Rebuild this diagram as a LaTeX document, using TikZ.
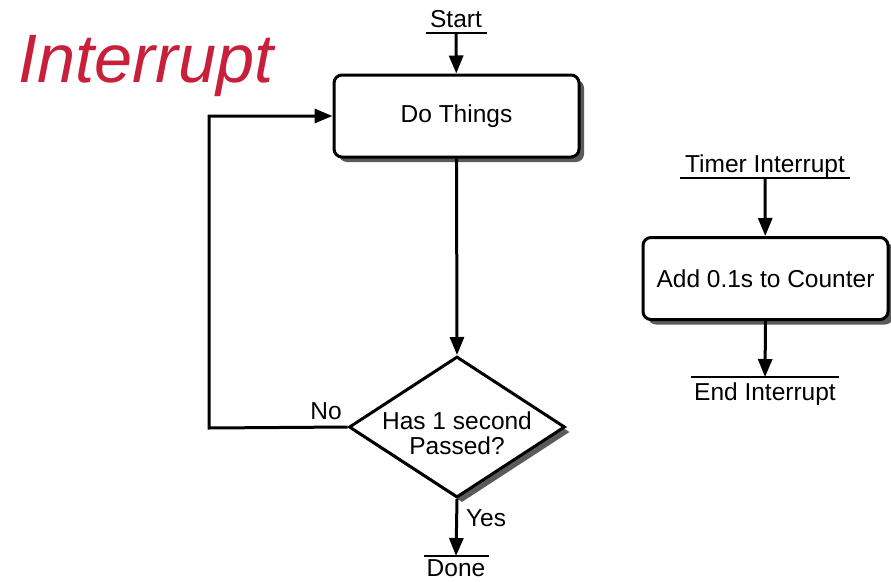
\documentclass[tikz,border=0pt]{standalone}
\usepackage{fontspec}
\setmainfont{Liberation Sans}
\usetikzlibrary{shapes.geometric,shadows,arrows.meta}
\definecolor{titlered}{RGB}{200,32,58}
\definecolor{shade}{RGB}{90,90,90}
\begin{document}
\begin{tikzpicture}[x=1pt,y=-1pt,
  hardshadow/.style={drop shadow={shadow xshift=5pt,shadow yshift=-5pt,fill=shade,opacity=1}},
  box/.style={draw,line width=3pt,rounded corners=8pt,fill=white,
    minimum width=245pt,minimum height=82pt,inner sep=0pt,
    font=\fontsize{24.5}{26}\selectfont,hardshadow},
  decision/.style={diamond,draw,line width=3pt,fill=white,inner sep=0pt,
    minimum width=216pt,minimum height=141pt,hardshadow},
  conn/.style={line width=3pt,-{Triangle[length=18pt,width=14pt]}},
  bar/.style={line width=2.8pt},
  txt/.style={font=\fontsize{24.5}{25}\selectfont,inner sep=0pt},
  lbl/.style={txt,align=center}]
\useasboundingbox (0,0) rectangle (891,581);

% heading
\node[anchor=base west,inner sep=0pt,text=titlered,
  font=\fontsize{68.5}{70}\selectfont\itshape] (title) at (18,82) {Interrupt};

% main loop
\node[txt,anchor=base] (start) at (456,27) {Start};
\coordinate (startbar) at (456,33);
\draw[bar] (426,33) -- (487,33);

\node[box] (do) at (456.5,116) {Do Things};

\node[decision] (dec) at (457,427) {};
\node[lbl] (dectext) at (457,433) {Has 1 second\\Passed?};

\coordinate (donebar) at (456,556);
\draw[bar] (424,556) -- (489,556);
\node[txt,anchor=base] (done) at (456,576) {Done};

\coordinate (loopcorner) at (209,428);

\draw[conn] (startbar) -- (do);
\draw[conn] (do.south) -- (dec.north);
\draw[conn] (dec.west) -- (loopcorner) |- (do.west);
\draw[conn] (dec.south) -- (donebar);

\node[txt] (no) at (326,411) {No};
\node[txt] (yes) at (486,518) {Yes};

% timer interrupt routine
\node[txt,anchor=base] (timer) at (765,172) {Timer Interrupt};
\coordinate (timerbar) at (765,178);
\draw[bar] (680,178) -- (850,178);

\node[box] (add) at (765.5,278.5) {Add 0.1s to Counter};

\coordinate (endbar) at (765,377);
\draw[bar] (691,377) -- (839,377);
\node[txt,anchor=base] (endint) at (765,400) {End Interrupt};

\draw[conn] (timerbar) -- (add);
\draw[conn] (add.south) -- (endbar);
\end{tikzpicture}
\end{document}
